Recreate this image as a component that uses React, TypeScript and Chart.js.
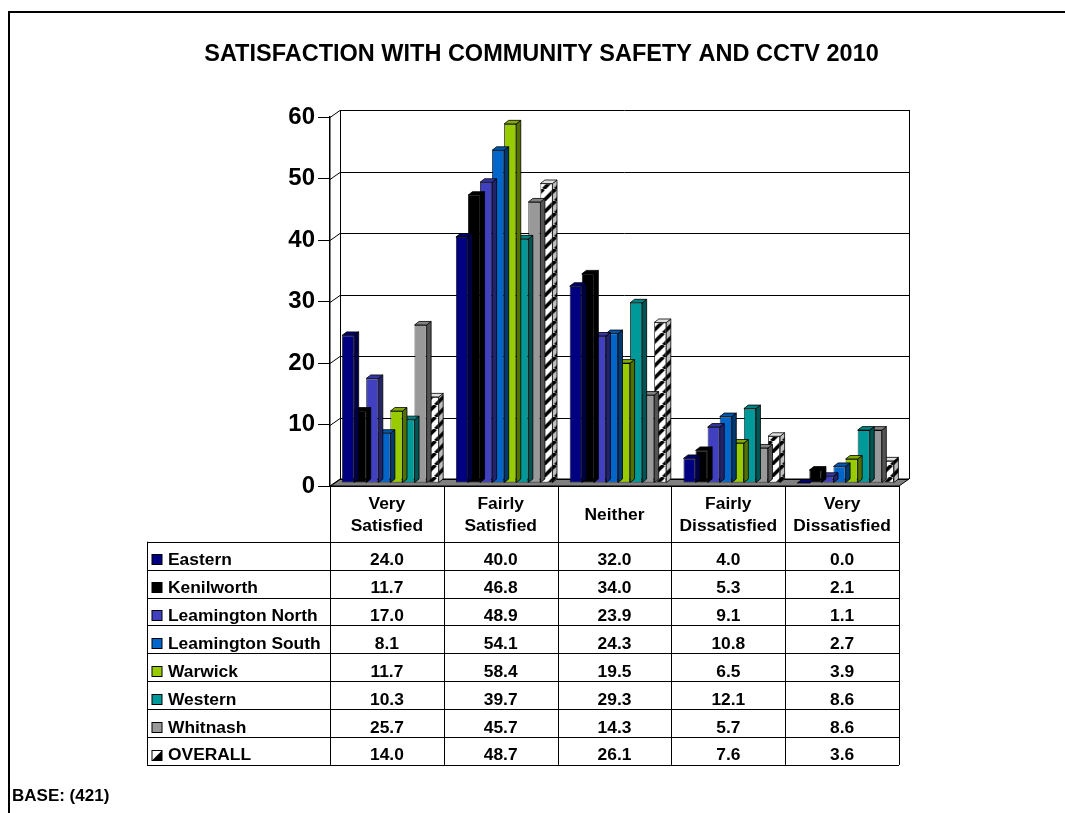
import React, { useEffect, useRef } from "react";
import { Chart, registerables } from "chart.js";

Chart.register(...registerables);

const FONT = '"Liberation Sans", Arial, sans-serif';
const TITLE = "SATISFACTION WITH COMMUNITY SAFETY AND CCTV 2010";
const BASE_NOTE = "BASE: (421)";

const categories: string[][] = [
  ["Very", "Satisfied"],
  ["Fairly", "Satisfied"],
  ["Neither"],
  ["Fairly", "Dissatisfied"],
  ["Very", "Dissatisfied"],
];

const seriesNames = [
  "Eastern",
  "Kenilworth",
  "Leamington North",
  "Leamington South",
  "Warwick",
  "Western",
  "Whitnash",
  "OVERALL",
];

const eastern = [24.0, 40.0, 32.0, 4.0, 0.0];
const kenilworth = [11.7, 46.8, 34.0, 5.3, 2.1];
const leamingtonNorth = [17.0, 48.9, 23.9, 9.1, 1.1];
const leamingtonSouth = [8.1, 54.1, 24.3, 10.8, 2.7];
const warwick = [11.7, 58.4, 19.5, 6.5, 3.9];
const western = [10.3, 39.7, 29.3, 12.1, 8.6];
const whitnash = [25.7, 45.7, 14.3, 5.7, 8.6];
const overall = [14.0, 48.7, 26.1, 7.6, 3.6];

const seriesValues = [eastern, kenilworth, leamingtonNorth, leamingtonSouth, warwick, western, whitnash, overall];
const seriesColors = ["#000080", "#000000", "#4040C0", "#0066CC", "#99CC00", "#009999", "#999999", "PATTERN"];

const yTicks = [0, 10, 20, 30, 40, 50, 60];

function darken(hex: string, f: number): string {
  const n = parseInt(hex.slice(1), 16);
  const r = Math.round(((n >> 16) & 255) * f);
  const g = Math.round(((n >> 8) & 255) * f);
  const b = Math.round((n & 255) * f);
  return `rgb(${r},${g},${b})`;
}

function makeHatch(ctx: CanvasRenderingContext2D): CanvasPattern | string {
  const c = document.createElement("canvas");
  c.width = 12;
  c.height = 12;
  const p = c.getContext("2d");
  if (!p) return "#fff";
  p.fillStyle = "#fff";
  p.fillRect(0, 0, 12, 12);
  p.strokeStyle = "#000";
  p.lineWidth = 3.6;
  for (const k of [-12, 0, 12]) {
    p.beginPath();
    p.moveTo(k, 12);
    p.lineTo(k + 12, 0);
    p.stroke();
  }
  return ctx.createPattern(c, "repeat") || "#fff";
}

const WALL_DX = 10;
const WALL_DY = -7;
const SHIFT_X = 3.5;
const SHIFT_Y = -3;
const BAR_DX = 4.5;
const BAR_DY = -3.5;

export default function App() {
  const ref = useRef<HTMLCanvasElement | null>(null);

  useEffect(() => {
    const canvas = ref.current;
    if (!canvas) return;
    const ctx0 = canvas.getContext("2d") as CanvasRenderingContext2D;
    const hatch = makeHatch(ctx0);

    const datasets = seriesNames.map((name, i) => ({
      label: name,
      data: seriesValues[i],
      backgroundColor: seriesColors[i] === "PATTERN" ? hatch : seriesColors[i],
      borderColor: "#000",
      borderWidth: 0.8,
      borderSkipped: false as const,
      categoryPercentage: 0.849,
      barPercentage: 1,
      clip: false as const,
    }));

    const plugin = {
      id: "threeDTable",
      beforeDraw(chart: any) {
        const ctx: CanvasRenderingContext2D = chart.ctx;
        ctx.save();
        ctx.fillStyle = "#fff";
        ctx.fillRect(0, 0, chart.width, chart.height);
        ctx.fillStyle = "#000";
        ctx.fillRect(8, 11, chart.width - 8, 2);
        ctx.fillRect(8, 11, 2, chart.height - 11);
        ctx.restore();
      },
      beforeDatasetsDraw(chart: any) {
        const ctx: CanvasRenderingContext2D = chart.ctx;
        const { left, right } = chart.chartArea;
        const y = chart.scales.y;
        const y0 = y.getPixelForValue(0);
        const yMax = y.getPixelForValue(60);
        ctx.save();
        // floor
        ctx.beginPath();
        ctx.moveTo(left, y0);
        ctx.lineTo(right, y0);
        ctx.lineTo(right + WALL_DX, y0 + WALL_DY);
        ctx.lineTo(left + WALL_DX, y0 + WALL_DY);
        ctx.closePath();
        ctx.fillStyle = "#808080";
        ctx.fill();
        ctx.strokeStyle = "#000";
        ctx.lineWidth = 1;
        ctx.stroke();
        // gridlines on side wall + back wall
        ctx.strokeStyle = "#000";
        ctx.lineWidth = 1;
        for (const t of yTicks) {
          const py = Math.round(y.getPixelForValue(t)) + 0.5;
          ctx.beginPath();
          ctx.moveTo(left, py);
          ctx.lineTo(left + WALL_DX, py + WALL_DY);
          ctx.lineTo(right + WALL_DX, py + WALL_DY);
          ctx.stroke();
        }
        // wall verticals
        ctx.beginPath();
        ctx.moveTo(left + WALL_DX + 0.5, yMax + WALL_DY);
        ctx.lineTo(left + WALL_DX + 0.5, y0 + WALL_DY);
        ctx.moveTo(right + WALL_DX + 0.5, yMax + WALL_DY);
        ctx.lineTo(right + WALL_DX + 0.5, y0 + WALL_DY);
        ctx.stroke();
        ctx.restore();
        ctx.save();
        ctx.translate(SHIFT_X, SHIFT_Y);
      },
      afterDatasetDraw(chart: any, args: any) {
        const ctx: CanvasRenderingContext2D = chart.ctx;
        const idx = args.index;
        const meta = chart.getDatasetMeta(idx);
        const col = seriesColors[idx];
        ctx.save();
        ctx.lineWidth = 0.8;
        ctx.strokeStyle = "#000";
        for (const el of meta.data) {
          const p = el.getProps(["x", "y", "base", "width"], true);
          const x0 = p.x - p.width / 2;
          const x1 = p.x + p.width / 2;
          const yt = Math.min(p.y, p.base);
          const yb = Math.max(p.y, p.base);
          // side
          ctx.beginPath();
          ctx.moveTo(x1, yt);
          ctx.lineTo(x1 + BAR_DX, yt + BAR_DY);
          ctx.lineTo(x1 + BAR_DX, yb + BAR_DY);
          ctx.lineTo(x1, yb);
          ctx.closePath();
          if (col === "PATTERN") {
            ctx.fillStyle = hatch as any;
            ctx.fill();
            ctx.fillStyle = "rgba(0,0,0,0.25)";
            ctx.fill();
          } else {
            ctx.fillStyle = darken(col, 0.55);
            ctx.fill();
          }
          ctx.stroke();
          // top
          ctx.beginPath();
          ctx.moveTo(x0, yt);
          ctx.lineTo(x1, yt);
          ctx.lineTo(x1 + BAR_DX, yt + BAR_DY);
          ctx.lineTo(x0 + BAR_DX, yt + BAR_DY);
          ctx.closePath();
          if (col === "PATTERN") {
            ctx.fillStyle = "#e0e0e0";
          } else {
            ctx.fillStyle = darken(col, 0.85);
          }
          ctx.fill();
          ctx.stroke();
        }
        ctx.restore();
      },
      afterDatasetsDraw(chart: any) {
        chart.ctx.restore();
      },
      afterDraw(chart: any) {
        const ctx: CanvasRenderingContext2D = chart.ctx;
        const x = chart.scales.x;
        const { left, right, bottom } = chart.chartArea;
        const colW = (right - left) / categories.length;
        const headerBottom = 541.7;
        const rowH = 27.9;
        const tableLeft = 147;
        const tableBottom = headerBottom + rowH * seriesNames.length;
        ctx.save();
        ctx.strokeStyle = "#000";
        ctx.lineWidth = 1;
        // header top line
        ctx.beginPath();
        ctx.moveTo(left, Math.round(bottom) + 0.5);
        ctx.lineTo(right, Math.round(bottom) + 0.5);
        ctx.stroke();
        // horizontal lines
        for (let r = 0; r <= seriesNames.length; r++) {
          const yy = Math.round(headerBottom + r * rowH) + 0.5;
          ctx.beginPath();
          ctx.moveTo(tableLeft, yy);
          ctx.lineTo(right, yy);
          ctx.stroke();
        }
        // vertical lines
        ctx.beginPath();
        ctx.moveTo(tableLeft + 0.5, headerBottom);
        ctx.lineTo(tableLeft + 0.5, tableBottom);
        for (let c = 0; c <= categories.length; c++) {
          const xx = Math.round(left + c * colW) + 0.5;
          ctx.moveTo(xx, bottom);
          ctx.lineTo(xx, tableBottom);
        }
        ctx.stroke();

        ctx.fillStyle = "#000";
        ctx.font = `bold 17.4px ${FONT}`;
        ctx.textAlign = "center";
        ctx.textBaseline = "alphabetic";
        // header
        categories.forEach((lines, i) => {
          const cx = x.getPixelForValue(i);
          if (lines.length === 1) {
            ctx.fillText(lines[0], cx, 520.4);
          } else {
            ctx.fillText(lines[0], cx, 509.4);
            ctx.fillText(lines[1], cx, 531.1);
          }
        });
        // rows
        seriesNames.forEach((name, r) => {
          const top = headerBottom + r * rowH;
          const base = top + 23.4;
          // legend key
          const kx = 152;
          const ky = Math.round(top + 12.5) + 0.5;
          if (seriesColors[r] === "PATTERN") {
            ctx.fillStyle = "#fff";
            ctx.fillRect(kx, ky, 10, 10);
            ctx.fillStyle = "#000";
            ctx.beginPath();
            ctx.moveTo(kx + 10, ky);
            ctx.lineTo(kx + 10, ky + 10);
            ctx.lineTo(kx, ky + 10);
            ctx.closePath();
            ctx.fill();
          } else {
            ctx.fillStyle = seriesColors[r];
            ctx.fillRect(kx, ky, 10, 10);
          }
          ctx.strokeStyle = "#000";
          ctx.strokeRect(kx, ky, 10, 10);
          ctx.fillStyle = "#000";
          ctx.textAlign = "left";
          ctx.fillText(name, 168, base);
          ctx.textAlign = "center";
          seriesValues[r].forEach((v, i) => {
            ctx.fillText(v.toFixed(1), x.getPixelForValue(i), base);
          });
        });
        // base note
        ctx.textAlign = "left";
        ctx.font = `bold 17px ${FONT}`;
        ctx.fillText(BASE_NOTE, 12, 801);
        ctx.restore();
      },
    };

    const chart = new Chart(canvas, {
      type: "bar",
      data: { labels: categories, datasets: datasets as any },
      options: {
        responsive: false,
        animation: false,
        devicePixelRatio: 1,
        layout: { padding: { left: 184, right: 166, top: 0, bottom: 327 } },
        plugins: {
          legend: { display: false },
          tooltip: { enabled: false },
          title: {
            display: true,
            text: TITLE,
            color: "#000",
            font: { size: 23.5, weight: "bold", family: FONT, lineHeight: 1.2 },
            padding: { top: 40, bottom: 48.8 },
          },
        },
        scales: {
          x: { display: false },
          y: {
            min: 0,
            max: 60,
            afterFit: (s: any) => {
              s.width = 146;
            },
            ticks: {
              stepSize: 10,
              color: "#000",
              padding: 3,
              font: { size: 24, weight: "bold", family: FONT },
            },
            grid: { drawOnChartArea: false, drawTicks: true, tickLength: 12, color: "#000", lineWidth: 1 },
            border: { display: true, color: "#000", width: 1.5 },
          },
        },
      },
      plugins: [plugin],
    });
    return () => chart.destroy();
  }, []);

  return (
    <div style={{ position: "absolute", left: 0, top: 0, width: 1065, height: 813 }}>
      <canvas ref={ref} width={1065} height={813} style={{ display: "block" }} />
    </div>
  );
}
